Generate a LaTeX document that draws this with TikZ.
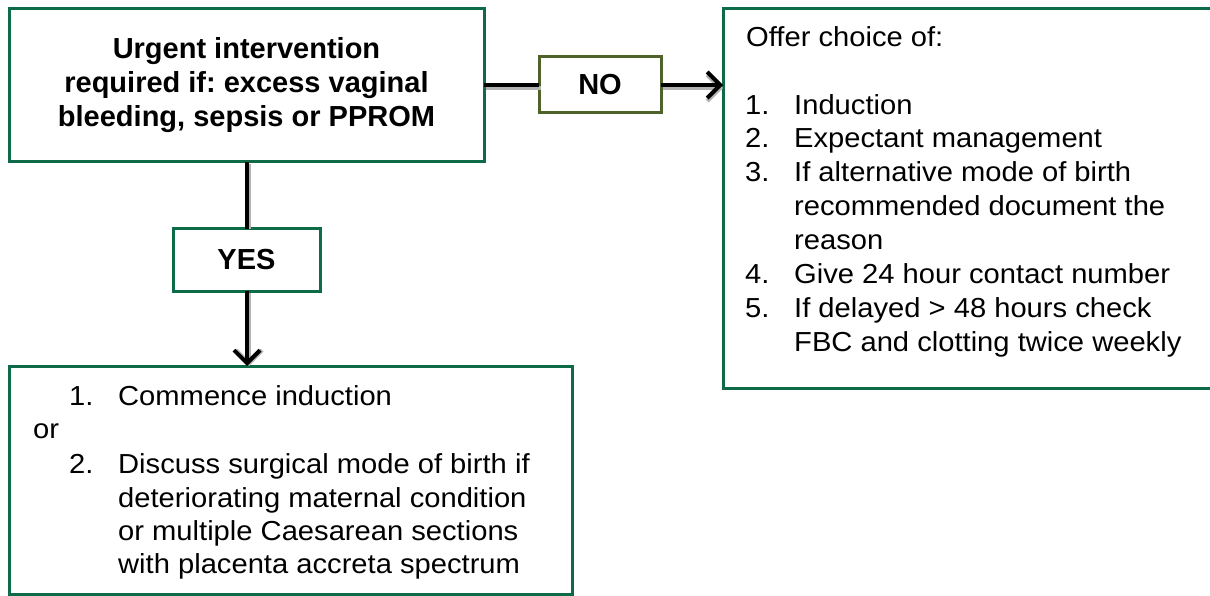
\documentclass[tikz,border=0pt]{standalone}
\usepackage{fontspec}
\setmainfont{Liberation Sans}
\newfontfamily\widefont[FakeStretch=1.06]{Liberation Sans}
\usetikzlibrary{arrows.meta}
\definecolor{boxgreen}{HTML}{0E6B47}
\definecolor{olive}{HTML}{4F6228}
\frenchspacing
\tikzset{
  gbox/.style={draw=boxgreen, line width=3pt, fill=white},
  obox/.style={draw=olive, line width=3pt, fill=white},
  conn/.style={line width=4pt, black},
  shad/.style={line width=4pt, black!30},
  tip/.style={-{Straight Barb[length=13pt,width=26pt,line width=4pt]}},
  ln/.style={anchor=base west, inner sep=0pt, font=\widefont\fontsize{27.5}{34}\selectfont},
  bt/.style={font=\fontsize{29}{34}\selectfont\bfseries, align=center, inner sep=0pt}
}
\begin{document}
\begin{tikzpicture}[x=1pt,y=-1pt]
\useasboundingbox (0,0) rectangle (1210,596);
\clip (0,0) rectangle (1210,596);
% boxes
\draw[gbox] (9,9) rectangle (484,162);
\node[bt] (top) at (246.5,85) {Urgent intervention\\required if: excess vaginal\\bleeding, sepsis or PPROM};
\coordinate (topR) at (484,85);
\coordinate (topB) at (247,162);

\draw[gbox] (723,9) rectangle (1220,388);
\coordinate (rightL) at (723,85);

\draw[gbox] (9,366) rectangle (572,594);
\coordinate (botT) at (247,366);

\draw[obox] (539,57) rectangle (661,113);
\node[bt] (no) at (600,85) {NO};
\coordinate (noL) at (539,85);
\coordinate (noR) at (661,85);

\draw[gbox] (173,229) rectangle (320,291);
\node[bt] (yes) at (246.5,260) {YES};
\coordinate (yesT) at (247,229);
\coordinate (yesB) at (247,291);

% connectors with soft shadow
\draw[shad] ([shift={(2,3)}]topR) -- ([shift={(2,3)}]noL);
\draw[shad,tip] ([shift={(2,3)}]noR) -- ([shift={(0,3)}]rightL);
\draw[conn] (topR) -- (noL);
\draw[conn,tip] (noR) -- (rightL);
\draw[shad] ([shift={(2,2)}]topB) -- ([shift={(2,0)}]yesT);
\draw[shad,tip] ([shift={(2,2)}]yesB) -- ([shift={(2,0)}]botT);
\draw[conn] (topB) -- (yesT);
\draw[conn,tip] (yesB) -- (botT);

% right box text
\node[ln] (r0) at (746,47) {Offer choice of:};
\node[ln] (r1n) at (745,115) {1.};
\node[ln] (r1) at (794,115) {Induction};
\node[ln] (r2n) at (745,148) {2.};
\node[ln] (r2) at (794,148) {Expectant management};
\node[ln] (r3n) at (745,182) {3.};
\node[ln] (r3) at (794,182) {If alternative mode of birth};
\node[ln] (r3b) at (794,215) {recommended document the};
\node[ln] (r3c) at (794,249) {reason};
\node[ln] (r4n) at (745,283) {4.};
\node[ln] (r4) at (794,283) {Give 24 hour contact number};
\node[ln] (r5n) at (745,317) {5.};
\node[ln] (r5) at (794,317) {If delayed > 48 hours check};
\node[ln] (r5b) at (794,351) {FBC and clotting twice weekly};

% bottom box text
\node[ln] (b1n) at (69,405) {1.};
\node[ln] (b1) at (118,405) {Commence induction};
\node[ln] (bor) at (33,438) {or};
\node[ln] (b2n) at (69,473) {2.};
\node[ln] (b2) at (118,473) {Discuss surgical mode of birth if};
\node[ln] (b2b) at (118,507) {deteriorating maternal condition};
\node[ln] (b2c) at (118,540) {or multiple Caesarean sections};
\node[ln] (b2d) at (118,573) {with placenta accreta spectrum};
\end{tikzpicture}
\end{document}
